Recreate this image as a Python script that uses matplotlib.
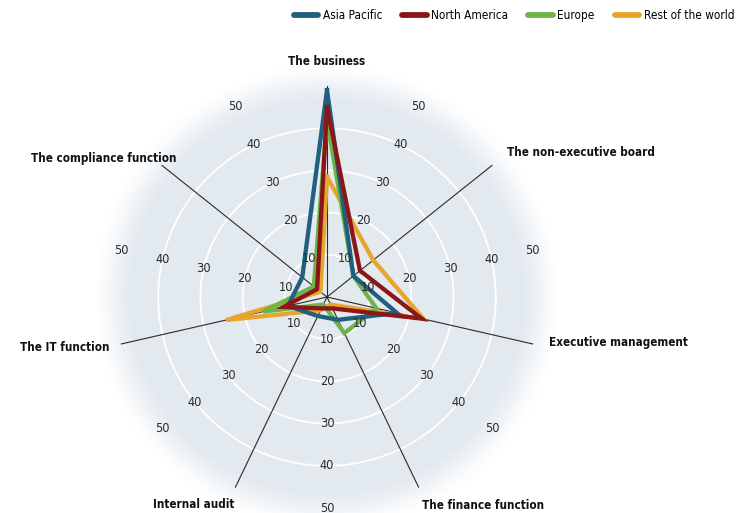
import numpy as np
import matplotlib
matplotlib.use("Agg")
import matplotlib.pyplot as plt
from matplotlib import font_manager as fm
from matplotlib.colors import LinearSegmentedColormap
from matplotlib.lines import Line2D

# Share of respondents naming each area (%), clockwise from the top
categories = ["The business", "The non-executive board", "Executive management",
              "The finance function", "Internal audit", "The IT function",
              "The compliance function"]
asia_pacific = [49, 8, 17, 6, 5, 9.5, 7.5]
north_america = [45, 10, 23, 3, 3, 10.5, 3]
europe = [42, 8, 12, 9.5, 2, 15.5, 4]
rest_of_world = [28.5, 14, 23.5, 2, 3.5, 24.5, 2]
series_names = ["Asia Pacific", "North America", "Europe", "Rest of the world"]
ring_ticks = [10, 20, 30, 40, 50]

colors = {"Asia Pacific": "#225e7e", "North America": "#8a1618",
          "Europe": "#6cb548", "Rest of the world": "#e9a52b"}

# prefer a narrow face if one is installed
narrow = [f for f in fm.fontManager.ttflist
          if "Narrow" in f.name or "Condensed" in f.name
          or str(f.stretch) in ("condensed", "semi-condensed", "extra-condensed")]
if narrow:
    plt.rcParams["font.family"] = [narrow[0].name, "DejaVu Sans"]
    plt.rcParams["font.stretch"] = "condensed"
    scale = 1.0
else:
    plt.rcParams["font.family"] = ["Roboto", "DejaVu Sans"]
    scale = 0.9

W, H = 736, 513
fig = plt.figure(figsize=(W / 100, H / 100), dpi=100)

R_MAX = 57
px_per_unit = 4.22
cx, cy = 327, 297
rpx = R_MAX * px_per_unit
ax = fig.add_axes([(cx - rpx) / W, (H - cy - rpx) / H, 2 * rpx / W, 2 * rpx / H],
                  projection="polar")
ax.set_theta_zero_location("N")
ax.set_theta_direction(-1)
ax.set_ylim(0, R_MAX)
ax.axis("off")

# soft radial backdrop
cmap = LinearSegmentedColormap.from_list("backdrop", ["#e2e9ef", "#ffffff"])
rr = np.linspace(0, R_MAX, 240)
tt = np.linspace(0, 2 * np.pi, 361)
T, RR = np.meshgrid(tt, rr)
f = np.clip((RR - 45) / (56 - 45), 0, 1)
f = f * f * (3 - 2 * f)
ax.pcolormesh(T, RR, f, cmap=cmap, vmin=0, vmax=1, shading="gouraud",
              zorder=0, rasterized=True)

# white rings
circle_t = np.linspace(0, 2 * np.pi, 400)
for v in ring_ticks[:-1]:
    ax.plot(circle_t, np.full_like(circle_t, v), color="white", lw=1.3, zorder=1)

n = len(categories)
angles = np.arange(n) * 2 * np.pi / n

# spokes
for a in angles:
    ax.plot([a, a], [0, ring_ticks[-1]], color="#2b2b2b", lw=0.8, zorder=2)

# ring value labels on the bisectors
for a in angles + np.pi / n:
    for v in ring_ticks:
        ax.text(a, v, str(v), ha="center", va="center", fontsize=9.2 * scale,
                color="#2b2b2b", zorder=6)

# series polygons
data = {"Asia Pacific": asia_pacific, "North America": north_america,
        "Europe": europe, "Rest of the world": rest_of_world}
draw_order = ["Rest of the world", "Europe", "Asia Pacific", "North America"]
closed_t = np.append(angles, angles[0])
for i, name in enumerate(draw_order):
    vals = data[name]
    ax.plot(closed_t, vals + vals[:1], color=colors[name], lw=3.1,
            solid_joinstyle="miter", zorder=3 + i * 0.1)

# category labels: (angle in degrees clockwise from top, radius, ha, va)
label_pos = [(0, 55.7, "center", "center"),
             (51.3, 54.6, "left", "center"),
             (101.7, 53.7, "left", "center"),
             (154.8, 52.9, "left", "top"),
             (204.8, 52.5, "right", "top"),
             (257.0, 53.0, "right", "center"),
             (312.6, 48.6, "right", "center")]
for name, (deg, r, ha, va) in zip(categories, label_pos):
    ax.text(np.deg2rad(deg), r, name, ha=ha, va=va, fontsize=8.4 * scale,
            fontweight="bold", color="#111111", clip_on=False, zorder=7)

handles = [Line2D([], [], color=colors[s], lw=4.2, solid_capstyle="round")
           for s in series_names]
fig.legend(handles, series_names, loc="upper right", bbox_to_anchor=(1.012, 1.003),
           ncol=4, frameon=False, fontsize=8.5 * scale, handlelength=2.1,
           handletextpad=0.35, columnspacing=1.7)

fig.savefig("out.png", dpi=100)
